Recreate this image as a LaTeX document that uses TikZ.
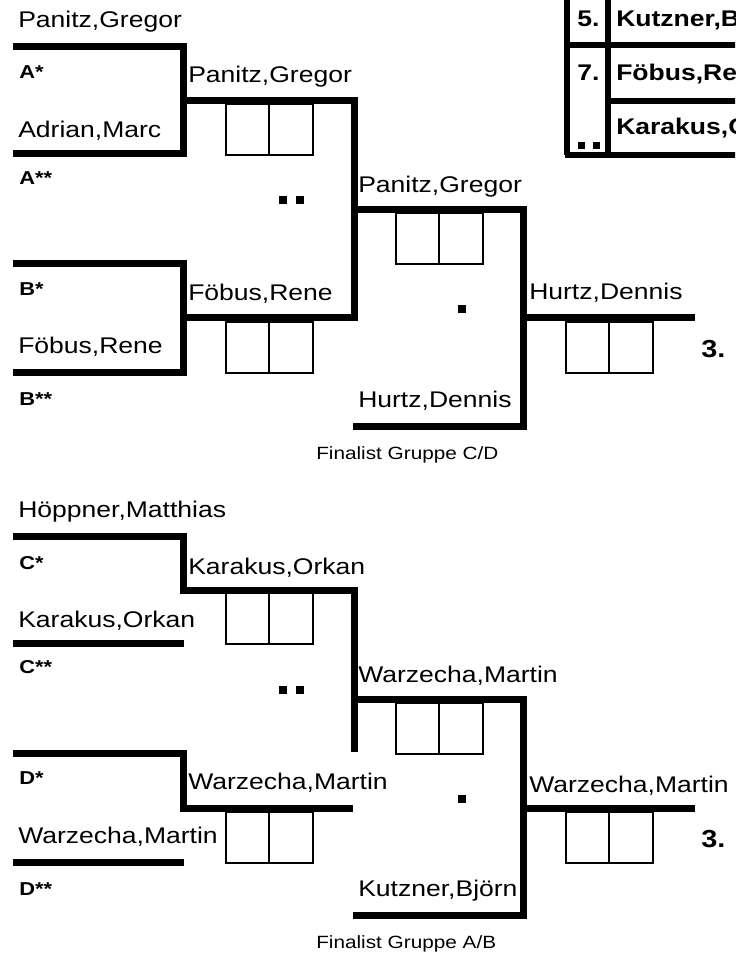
\documentclass[tikz,border=0pt]{standalone}
\usepackage{fontspec}
\setmainfont[FakeStretch=1.17]{Liberation Sans}
\begin{document}
\begin{tikzpicture}[x=0.75pt,y=-0.75pt,
  bline/.style={line width=5.25pt,line join=miter},
  tline/.style={line width=4.5pt},
  boxline/.style={line width=1.5pt},
  nm/.style={anchor=base west,inner sep=0pt,font=\fontsize{17}{19}\selectfont},
  lbl/.style={anchor=base west,inner sep=0pt,font=\fontsize{14}{16}\selectfont\bfseries},
  tb/.style={anchor=base west,inner sep=0pt,font=\fontsize{17}{19}\selectfont\bfseries},
  rank/.style={anchor=base west,inner sep=0pt,font=\fontsize{18.5}{20}\selectfont\bfseries},
  fin/.style={anchor=base west,inner sep=0pt,font=\fontsize{13.3}{15}\selectfont},
  scorebox/.pic={\draw[boxline] (0,0) rectangle (87,51); \draw[boxline] (43,0) -- (43,51);}
]
\useasboundingbox (0,0) rectangle (735,956);
\clip (0,0) rectangle (735,956);

% ---------------- top-right table ----------------
\draw[tline] (567,-5) -- (567,154.5);
\draw[tline] (608,-5) -- (608,154.5);
\draw[tline] (564.75,45.5) -- (740,45.5);
\draw[tline] (608,100.5) -- (740,100.5);
\draw[tline] (564.75,154.5) -- (740,154.5);
\node[tb] (r5) at (577,27) {5.};
\node[tb] (r5n) at (616,27) {Kutzner,Björn};
\node[tb] (r7) at (577,80) {7.};
\node[tb] (r7n) at (616,80) {Föbus,Rene};
\node[tb] (r9n) at (616,134) {Karakus,Orkan};
\fill (578,142) rectangle (585,149);
\fill (593,142) rectangle (600,149);

% ---------------- upper half ----------------
\coordinate (a1) at (13,46.5);
\coordinate (a2) at (183.5,46.5);
\coordinate (a3) at (183.5,153.5);
\coordinate (a4) at (13,153.5);
\coordinate (am) at (183.5,100.5);
\coordinate (sl1) at (354,100.5);
\coordinate (b1) at (13,263);
\coordinate (b2) at (183.5,263);
\coordinate (b3) at (183.5,372);
\coordinate (b4) at (13,372);
\coordinate (bm) at (183.5,317.5);
\coordinate (sl2) at (354,317.5);
\coordinate (sm) at (354,209);
\coordinate (sr1) at (523.5,209);
\coordinate (sr2) at (523.5,426.5);
\coordinate (hl) at (353,426.5);
\coordinate (fm) at (523.5,317.5);
\coordinate (fe) at (695,317.5);

\draw[bline] (a1) -- (a2) -- (a3) -- (a4);
\draw[bline] (am) -- (sl1) -- (sl2) -- (bm);
\draw[bline] (b1) -- (b2) -- (b3) -- (b4);
\draw[bline] (sm) -- (sr1) -- (sr2) -- (hl);
\draw[bline] (fm) -- (fe);

\pic at (226,103.5) {scorebox};
\pic at (226,321.5) {scorebox};
\pic at (396,212.5) {scorebox};
\pic at (566,321.5) {scorebox};

\fill (279,196) rectangle (287,204);
\fill (296,196) rectangle (304,204);
\fill (458,305) rectangle (466,313);

\node[nm] (t1) at (18,28) {Panitz,Gregor};
\node[lbl] (t2) at (19,79) {A*};
\node[nm] (t3) at (18,137) {Adrian,Marc};
\node[lbl] (t4) at (19,184) {A**};
\node[nm] (t5) at (188,83) {Panitz,Gregor};
\node[nm] (t6) at (358,192) {Panitz,Gregor};
\node[lbl] (t7) at (19,295) {B*};
\node[nm] (t8) at (188,300) {Föbus,Rene};
\node[nm] (t9) at (18,353) {Föbus,Rene};
\node[lbl] (t10) at (19,405) {B**};
\node[nm] (t11) at (529,299) {Hurtz,Dennis};
\node[nm] (t12) at (358,407) {Hurtz,Dennis};
\node[rank] (t13) at (701,357) {3.};
\node[fin] (t14) at (316,459) {Finalist Gruppe C/D};

% ---------------- lower half ----------------
\coordinate (c1) at (13,536);
\coordinate (c2) at (183.5,536);
\coordinate (cm) at (183.5,590);
\coordinate (ul1) at (354,590);
\coordinate (ul2) at (354,752);
\coordinate (c4) at (13,643.5);
\coordinate (c5) at (184,643.5);
\coordinate (d1) at (13,753);
\coordinate (d2) at (183.5,753);
\coordinate (dm) at (183.5,808.5);
\coordinate (dr) at (353,808.5);
\coordinate (d4) at (13,862);
\coordinate (d5) at (184,862);
\coordinate (um) at (354,699);
\coordinate (ur1) at (523.5,699);
\coordinate (ur2) at (523.5,915.5);
\coordinate (kl) at (353,915.5);
\coordinate (gm) at (523.5,808.5);
\coordinate (ge) at (695,808.5);

\draw[bline] (c1) -- (c2) -- (cm) -- (ul1) -- (ul2);
\draw[bline] (c4) -- (c5);
\draw[bline] (d1) -- (d2) -- (dm) -- (dr);
\draw[bline] (d4) -- (d5);
\draw[bline] (um) -- (ur1) -- (ur2) -- (kl);
\draw[bline] (gm) -- (ge);

\pic at (226,593) {scorebox};
\pic at (226,812) {scorebox};
\pic at (396,702.5) {scorebox};
\pic at (566,812) {scorebox};

\fill (279,686) rectangle (287,694);
\fill (296,686) rectangle (304,694);
\fill (458,795) rectangle (466,803);

\node[nm] (u1) at (18,517) {Höppner,Matthias};
\node[lbl] (u2) at (19,569) {C*};
\node[nm] (u3) at (18,627) {Karakus,Orkan};
\node[lbl] (u4) at (19,673) {C**};
\node[nm] (u5) at (188,574) {Karakus,Orkan};
\node[nm] (u6) at (358,682) {Warzecha,Martin};
\node[lbl] (u7) at (19,784) {D*};
\node[nm] (u8) at (188,789) {Warzecha,Martin};
\node[nm] (u9) at (18,843) {Warzecha,Martin};
\node[lbl] (u10) at (19,895) {D**};
\node[nm] (u11) at (529,792) {Warzecha,Martin};
\node[nm] (u12) at (358,896) {Kutzner,Björn};
\node[rank] (u13) at (701,847) {3.};
\node[fin] (u14) at (316,948) {Finalist Gruppe A/B};
\end{tikzpicture}
\end{document}
